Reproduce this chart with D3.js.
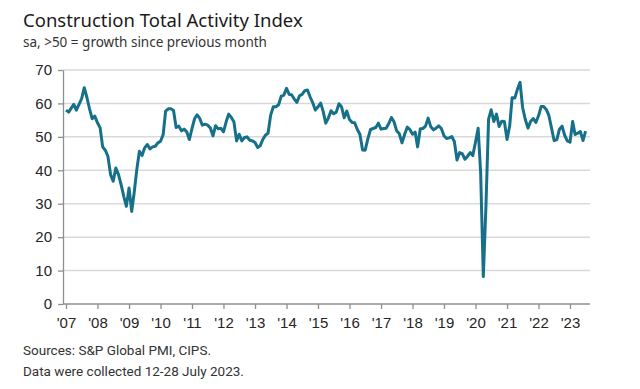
<!DOCTYPE html>
<html>
<head>
<meta charset="utf-8">
<script src="https://cdn.jsdelivr.net/npm/d3@7"></script>
<style>
  body { margin: 0; background: #fff; }
  svg { display: block; }
</style>
</head>
<body>
<div id="chart"></div>
<script>
// chart texts
const title = "Construction Total Activity Index";
const subtitle = "sa, >50 = growth since previous month";
const footnotes = ["Sources: S&P Global PMI, CIPS.", "Data were collected 12-28 July 2023."];

// axes
const yearTicks = [2007, 2008, 2009, 2010, 2011, 2012, 2013, 2014, 2015, 2016, 2017, 2018, 2019, 2020, 2021, 2022, 2023];
const yTicks = [0, 10, 20, 30, 40, 50, 60, 70];

// monthly index, Jan 2007 .. Jul 2023 (one row per year)
const activity = [
  58, 57.4, 58.5, 59.7, 58, 59.7, 61.4, 64.7, 61.7, 58.4, 55.4, 56.2,
  54.2, 52.7, 47, 46, 44.2, 38.7, 36.7, 40.7, 38.7, 35.7, 32.2, 29.2,
  34.7, 27.7, 33.2, 40.2, 45.7, 44.4, 46.7, 47.7, 46.4, 47, 47.2, 48.2,
  48.7, 50.7, 57.7, 58.4, 58.4, 57.9, 52.8, 53.2, 51.8, 52.3, 51.5, 49.2,
  52.5, 55.5, 56.6, 55.5, 53.5, 53.8, 53.5, 52.7, 50.3, 53.3, 52.4, 52.6,
  51.5, 54.5, 56.8, 55.8, 54.5, 48.8, 50.8, 48.8, 49.8, 50, 49, 48.8,
  48.3, 46.8, 47.3, 49.2, 50.5, 51.1, 56.5, 59, 59, 59.6, 62.2, 62.5,
  64.5, 62.7, 62.6, 61.3, 60.3, 62.3, 62.7, 63.8, 64, 62, 60.2, 58,
  59, 60.1, 57.7, 54.1, 55.6, 57.8, 56.9, 57.4, 59.9, 59, 55.7, 57.7,
  55.2, 54.3, 54.2, 52.2, 50.8, 46.1, 46, 49.4, 52.2, 52.5, 52.8, 54.1,
  52.3, 52.5, 52.6, 54, 55.8, 54.5, 51.8, 50.9, 48.2, 50.7, 52.9, 52.2,
  50.8, 51.4, 47, 52.4, 52.5, 53.2, 55.6, 53, 52.1, 52.6, 53.3, 52.5,
  50.3, 49.5, 49.7, 50.1, 48.6, 43.1, 45.3, 45, 43.3, 44.2, 45.3, 44.4,
  48.4, 52.6, 39.3, 8.2, 28.9, 55.3, 58.1, 54.6, 56.8, 53.1, 54.7, 54.6,
  49.2, 53.3, 61.7, 61.6, 64.2, 66.3, 58.7, 55.2, 52.6, 54.6, 55.5, 54.3,
  56.3, 59.1, 59.1, 58.2, 56.4, 52.6, 48.9, 49.2, 52.3, 53.2, 50.4, 48.8,
  48.4, 54.6, 50.7, 51.1, 51.6, 48.9, 51.7
];

const width = 640, height = 389;
const plot = {left: 63, right: 590, top: 70, bottom: 304};
const axisColor = "#8f8f8f";
const labelFont = "'Liberation Sans', Arial, sans-serif";
const titleFont = "'Noto Sans', Roboto, sans-serif";
const noteFont = "Roboto, 'Noto Sans', sans-serif";

const svg = d3.select("#chart").append("svg")
    .attr("width", width)
    .attr("height", height);

const months = activity.map((d, i) => new Date(yearTicks[0], i, 1));

const x = d3.scaleTime()
    .domain([months[0], months[months.length - 1]])
    .range([66, 585.6]);
const y = d3.scaleLinear()
    .domain([0, 70])
    .range([plot.bottom, plot.top]);

// gridlines
svg.append("g")
  .selectAll("line")
  .data(yTicks.filter(d => d > 0))
  .join("line")
    .attr("x1", plot.left)
    .attr("x2", plot.right)
    .attr("y1", d => y(d))
    .attr("y2", d => y(d))
    .attr("stroke", "#d9d9d9")
    .attr("stroke-width", 1.5);

// y axis
svg.append("g")
    .attr("transform", `translate(${plot.left},0)`)
    .call(d3.axisLeft(y).tickValues(yTicks).tickSize(5).tickSizeOuter(0).tickPadding(6))
    .call(g => g.select(".domain").attr("stroke", axisColor).attr("stroke-width", 1.3))
    .call(g => g.selectAll(".tick line").attr("stroke", axisColor).attr("stroke-width", 1.3))
    .call(g => g.selectAll(".tick text")
      .attr("fill", "#262626")
      .attr("font-family", labelFont)
      .attr("font-size", "15px"));

// x axis
svg.append("g")
    .attr("transform", `translate(0,${plot.bottom})`)
    .call(d3.axisBottom(x)
      .tickValues(yearTicks.map(d => new Date(d, 0, 1)))
      .tickFormat(d => "'" + d3.timeFormat("%y")(d))
      .tickSize(5)
      .tickSizeOuter(0)
      .tickPadding(8))
    .call(g => g.select(".domain").remove())
    .call(g => g.selectAll(".tick line").attr("stroke", axisColor).attr("stroke-width", 1.3))
    .call(g => g.selectAll(".tick text")
      .attr("fill", "#262626")
      .attr("font-family", labelFont)
      .attr("font-size", "15px"))
    .call(g => g.append("line")
      .attr("x1", plot.left)
      .attr("x2", plot.right)
      .attr("stroke", axisColor)
      .attr("stroke-width", 1.3));

// the series
svg.append("path")
    .datum(activity)
    .attr("fill", "none")
    .attr("stroke", "#17708a")
    .attr("stroke-width", 3)
    .attr("stroke-linejoin", "round")
    .attr("d", d3.line().x((d, i) => x(months[i])).y(d => y(d)));

// titles
svg.append("text")
    .attr("x", 23)
    .attr("y", 27)
    .attr("font-family", titleFont)
    .attr("font-size", "18.5px")
    .attr("fill", "#1a1a1a")
    .text(title);

svg.append("text")
    .attr("x", 23)
    .attr("y", 47)
    .attr("font-family", titleFont)
    .attr("font-size", "13.5px")
    .attr("fill", "#333")
    .text(subtitle);

svg.append("g")
  .selectAll("text")
  .data(footnotes)
  .join("text")
    .attr("x", 23)
    .attr("y", (d, i) => 355 + i * 21)
    .attr("font-family", noteFont)
    .attr("font-size", "13.5px")
    .attr("fill", "#333")
    .text(d => d);
</script>
</body>
</html>
